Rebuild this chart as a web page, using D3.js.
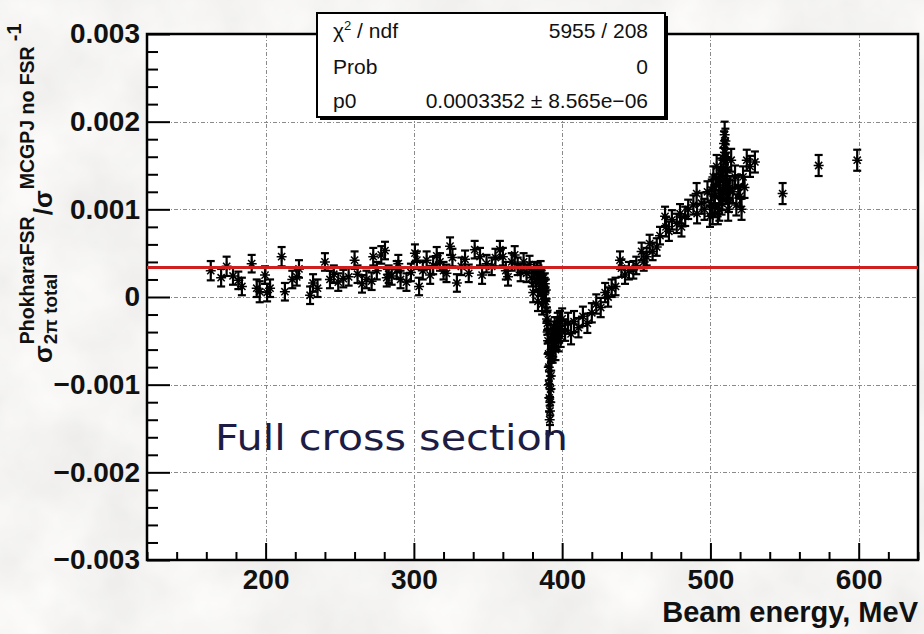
<!DOCTYPE html>
<html>
<head>
<meta charset="utf-8">
<script src="https://cdn.jsdelivr.net/npm/d3@7"></script>
<style>
    html, body { margin: 0; padding: 0; background: #e8e6e3; }
    svg { display: block; font-family: 'Liberation Sans', Arial, Helvetica, sans-serif; }
    .tick text { font-size: 28px; font-weight: bold; fill: #111; }
    .tick line { stroke: #000; stroke-width: 2; }
    .grid { stroke: #8a8a8a; stroke-width: 1; stroke-dasharray: 4,2,1,2; }
    .ytitle text { font-weight: bold; fill: #111; }
    .stats text { font-size: 21px; fill: #111; }
</style>
</head>
<body>
<div id="vis"></div>
<script>
'use strict';

//beam energy of each point, MeV
var energy = [
    163, 170, 173.7, 178, 181.6, 184, 190.6, 194, 196, 199.6,
    201, 203, 210.8, 213, 218, 221, 222.5, 230, 232, 235,
    240, 243.4, 246, 249, 252.4, 256, 260, 262, 265, 268,
    271.5, 272.6, 275, 278, 280.5, 281.7, 283, 285, 288.4, 289.5,
    291, 295, 298, 300.7, 302, 303.5, 306, 308.6, 311, 313,
    315.4, 317.6, 320, 322, 324.4, 326, 329, 332, 334.5, 337,
    341, 344.6, 346, 349, 352.5, 355, 358, 360, 362, 363.5,
    366, 368, 370, 372, 374, 376, 378, 379.5, 381, 382.5,
    384, 385, 386, 387, 388, 388.8, 389.5, 390, 390.5, 391,
    391.3, 391.6, 392, 392.4, 392.8, 393.3, 394, 395, 396, 397,
    398, 400, 402, 404, 406, 408, 411, 414, 417, 420,
    423, 426, 429, 431, 433.4, 436, 439, 440, 442.4, 445,
    448, 450, 453.6, 455, 457, 459, 461, 463.8, 466, 469.4,
    470, 472, 474, 477.3, 479.5, 480.5, 483, 485, 488.5, 490.7,
    491, 494, 496, 498, 499.7, 500.9, 502, 503, 504.2, 505,
    506.5, 507.5, 508.3, 508.7, 509.2, 509.6, 509.8, 510.1, 510.6, 511,
    511.7, 512.5, 514, 516.6, 518.8, 520, 522, 524.5, 526.7, 530,
    548.7, 573, 599,
    //extra points of the omega and phi scans
    380.5, 383, 383.7, 385.5, 386.5, 387.5, 388.3, 389, 389.8, 390.2,
    390.8, 391.1, 391.8, 392.2, 392.6, 393, 393.6, 394.5, 395.5, 396.5,
    397.5, 398.5, 399,
    500.3, 501.5, 502.6, 503.6, 505.6, 506, 507, 508, 509, 510.3,
    510.8, 511.4, 512, 513, 515, 517.5, 521, 523
];

//sigma(Phokhara FSR) / sigma(MCGPJ no FSR) - 1
var ratio = [
    0.00030, 0.00022, 0.00035, 0.00024, 0.00019, 0.00012, 0.00038, 0.00010, 0.00006, 0.00025,
    0.00005, 0.00010, 0.00046, 0.00006, 0.00020, 0.00023, 0.00032, 0.00002, 0.00016, 0.00010,
    0.00040, 0.00020, 0.00026, 0.00017, 0.00021, 0.00023, 0.00042, 0.00026, 0.00015, 0.00020,
    0.00018, 0.00046, 0.00030, 0.00048, 0.00053, 0.00022, 0.00026, 0.00024, 0.00031, 0.00038,
    0.00020, 0.00017, 0.00028, 0.00050, 0.00042, 0.00012, 0.00030, 0.00042, 0.00025, 0.00036,
    0.00047, 0.00040, 0.00030, 0.00027, 0.00058, 0.00045, 0.00016, 0.00035, 0.00043, 0.00027,
    0.00054, 0.00046, 0.00025, 0.00038, 0.00035, 0.00045, 0.00054, 0.00046, 0.00030, 0.00023,
    0.00040, 0.00048, 0.00035, 0.00028, 0.00040, 0.00027, 0.00037, 0.00022, 0.00030, 0.00018,
    0.00025, 0.00012, 0.00020, 0.00005, 0.00010, -0.00005, -0.00015, -0.00030, -0.00050, -0.00080,
    -0.00115, -0.00140, -0.00120, -0.00090, -0.00060, -0.00045, -0.00055, -0.00035, -0.00048, -0.00030,
    -0.00040, -0.00025, -0.00038, -0.00030, -0.00042, -0.00028, -0.00035, -0.00022, -0.00030, -0.00018,
    -0.00008, -0.00012, 0.00005, 0.00000, 0.00010, 0.00012, 0.00042, 0.00033, 0.00025, 0.00030,
    0.00031, 0.00036, 0.00052, 0.00040, 0.00046, 0.00061, 0.00052, 0.00057, 0.00070, 0.00092,
    0.00080, 0.00075, 0.00088, 0.00084, 0.00095, 0.00080, 0.00092, 0.00100, 0.00105, 0.00118,
    0.00095, 0.00107, 0.00100, 0.00120, 0.00092, 0.00122, 0.00137, 0.00103, 0.00149, 0.00095,
    0.00118, 0.00107, 0.00135, 0.00156, 0.00175, 0.00185, 0.00165, 0.00178, 0.00145, 0.00130,
    0.00122, 0.00110, 0.00156, 0.00137, 0.00126, 0.00115, 0.00137, 0.00156, 0.00149, 0.00154,
    0.00118, 0.00150, 0.00156,
    0.00005, 0.00028, -0.00005, 0.00030, -0.00008, 0.00022, 0.00015, 0.00008, -0.00025, -0.00040,
    -0.00065, -0.00100, -0.00130, -0.00105, -0.00070, -0.00050, -0.00062, -0.00040, -0.00060, -0.00035,
    -0.00050, -0.00028, -0.00045,
    0.00105, 0.00095, 0.00115, 0.00128, 0.00135, 0.00100, 0.00145, 0.00112, 0.00125, 0.00160,
    0.00120, 0.00145, 0.00100, 0.00125, 0.00120, 0.00105, 0.00100, 0.00125
];

//statistical error of each point
var ratioErr = [
    0.00011, 0.00010, 0.00011, 0.00010, 0.00010, 0.00010, 0.00010, 0.00010, 0.00012, 0.00010,
    0.00010, 0.00010, 0.00011, 0.00010, 0.00010, 0.00010, 0.00010, 0.00010, 0.00010, 0.00010,
    0.00010, 0.00010, 0.00010, 0.00010, 0.00010, 0.00010, 0.00010, 0.00010, 0.00010, 0.00010,
    0.00010, 0.00010, 0.00010, 0.00010, 0.00010, 0.00010, 0.00010, 0.00010, 0.00010, 0.00010,
    0.00010, 0.00010, 0.00010, 0.00010, 0.00010, 0.00010, 0.00010, 0.00010, 0.00010, 0.00010,
    0.00010, 0.00010, 0.00010, 0.00010, 0.00010, 0.00010, 0.00010, 0.00010, 0.00010, 0.00010,
    0.00010, 0.00010, 0.00010, 0.00010, 0.00010, 0.00010, 0.00010, 0.00010, 0.00010, 0.00010,
    0.00010, 0.00010, 0.00010, 0.00010, 0.00010, 0.00010, 0.00010, 0.00010, 0.00010, 0.00010,
    0.00011, 0.00011, 0.00011, 0.00012, 0.00012, 0.00012, 0.00013, 0.00013, 0.00014, 0.00015,
    0.00016, 0.00016, 0.00015, 0.00015, 0.00014, 0.00013, 0.00013, 0.00012, 0.00012, 0.00012,
    0.00012, 0.00012, 0.00012, 0.00012, 0.00012, 0.00012, 0.00011, 0.00011, 0.00011, 0.00011,
    0.00011, 0.00011, 0.00011, 0.00011, 0.00010, 0.00010, 0.00010, 0.00010, 0.00010, 0.00010,
    0.00010, 0.00010, 0.00010, 0.00010, 0.00010, 0.00010, 0.00010, 0.00010, 0.00010, 0.00011,
    0.00011, 0.00011, 0.00011, 0.00011, 0.00011, 0.00011, 0.00011, 0.00011, 0.00011, 0.00012,
    0.00011, 0.00012, 0.00012, 0.00012, 0.00012, 0.00012, 0.00012, 0.00012, 0.00013, 0.00012,
    0.00013, 0.00013, 0.00013, 0.00014, 0.00014, 0.00015, 0.00014, 0.00014, 0.00014, 0.00013,
    0.00013, 0.00013, 0.00013, 0.00013, 0.00013, 0.00012, 0.00012, 0.00012, 0.00012, 0.00012,
    0.00012, 0.00012, 0.00012,
    0.00011, 0.00011, 0.00011, 0.00011, 0.00012, 0.00012, 0.00012, 0.00012, 0.00013, 0.00013,
    0.00014, 0.00015, 0.00016, 0.00015, 0.00014, 0.00013, 0.00013, 0.00012, 0.00012, 0.00012,
    0.00012, 0.00012, 0.00012,
    0.00012, 0.00012, 0.00012, 0.00012, 0.00013, 0.00013, 0.00013, 0.00013, 0.00014, 0.00014,
    0.00014, 0.00013, 0.00013, 0.00013, 0.00013, 0.00012, 0.00012, 0.00012
];

//constant fit
var fitP0 = 0.0003352;

//axes
var xDomain = [120, 640];
var yDomain = [-0.003, 0.003];
var xTicks = [200, 300, 400, 500, 600];
var yTicks = [0.003, 0.002, 0.001, 0, -0.001, -0.002, -0.003];
var yTickLabels = ['0.003', '0.002', '0.001', '0', '\u22120.001', '\u22120.002', '\u22120.003'];

//stats box rows
var statsLabels = ['Prob', 'p0'];
var statsValues = ['5955 / 208', '0', '0.0003352 \u00b1 8.565e\u221206'];

//layout
var width = 924, height = 634;
var frame = { left: 147, top: 34, right: 918, bottom: 560 };

var x = d3.scaleLinear().domain(xDomain).range([frame.left, frame.right]);
var y = d3.scaleLinear().domain(yDomain).range([frame.bottom, frame.top]);

var svg = d3.select('#vis')
    .append('svg')
    .attr('width', width)
    .attr('height', height);

//paper-like background
var filter = svg.append('defs').append('filter')
    .attr('id', 'paper')
    .attr('x', 0).attr('y', 0).attr('width', 1).attr('height', 1);
filter.append('feTurbulence')
    .attr('type', 'fractalNoise')
    .attr('baseFrequency', 0.012)
    .attr('numOctaves', 4)
    .attr('seed', 7);
filter.append('feColorMatrix')
    .attr('type', 'matrix')
    .attr('values', '0.2 0 0 0 0.81  0.2 0 0 0 0.805  0.2 0 0 0 0.795  0 0 0 0 1');
svg.append('rect')
    .attr('width', width)
    .attr('height', height)
    .attr('filter', 'url(#paper)');

//plot area
svg.append('rect')
    .attr('x', frame.left)
    .attr('y', frame.top)
    .attr('width', frame.right - frame.left)
    .attr('height', frame.bottom - frame.top)
    .style('fill', '#fff');

//grid
svg.selectAll('.grid-x')
    .data(xTicks)
    .enter()
    .append('line')
    .attr('class', 'grid')
    .attr('x1', function (d) { return Math.round(x(d)) + 0.5; })
    .attr('x2', function (d) { return Math.round(x(d)) + 0.5; })
    .attr('y1', frame.top)
    .attr('y2', frame.bottom);
svg.selectAll('.grid-y')
    .data(yTicks.slice(1, -1))
    .enter()
    .append('line')
    .attr('class', 'grid')
    .attr('x1', frame.left)
    .attr('x2', frame.right)
    .attr('y1', function (d) { return Math.round(y(d)) + 0.5; })
    .attr('y2', function (d) { return Math.round(y(d)) + 0.5; });

//minor ticks: every 20 MeV and every 0.0002
var xMinor = d3.range(xDomain[0], xDomain[1] + 1, 20).filter(function (d) {
    return xTicks.indexOf(d) < 0;
});
var yMinor = d3.range(-15, 16).filter(function (i) { return i % 5 !== 0; })
    .map(function (i) { return i * 0.0002; });

var xAxisG = svg.append('g').attr('transform', 'translate(0,' + frame.bottom + ')');
xAxisG.call(d3.axisBottom(x).tickValues(xTicks).tickSize(-17).tickSizeOuter(0).tickPadding(9));
xAxisG.append('g').call(d3.axisBottom(x).tickValues(xMinor).tickSize(-8).tickSizeOuter(0).tickFormat(''));

var yAxisG = svg.append('g').attr('transform', 'translate(' + frame.left + ',0)');
yAxisG.call(d3.axisLeft(y).tickValues(yTicks).tickSize(-23).tickSizeOuter(0).tickPadding(7)
    .tickFormat(function (d, i) { return yTickLabels[i]; }));
yAxisG.append('g').call(d3.axisLeft(y).tickValues(yMinor).tickSize(-11).tickSizeOuter(0).tickFormat(''));

svg.selectAll('.domain').remove();
svg.selectAll('.tick text').attr('font-family', null).attr('font-size', null).attr('fill', null);

//frame
svg.append('rect')
    .attr('x', frame.left)
    .attr('y', frame.top)
    .attr('width', frame.right - frame.left)
    .attr('height', frame.bottom - frame.top)
    .style('fill', 'none')
    .style('stroke', '#000')
    .style('stroke-width', 2.5);

//data points with error bars and star markers
var points = energy.map(function (e, i) {
    return { e: e, v: ratio[i], err: ratioErr[i] };
});
var pt = svg.selectAll('.pt')
    .data(points)
    .enter()
    .append('g')
    .attr('class', 'pt')
    .attr('transform', function (d) { return 'translate(' + x(d.e) + ',0)'; })
    .style('stroke', '#000')
    .style('stroke-width', 2.2);
pt.append('line')
    .attr('y1', function (d) { return y(d.v - d.err); })
    .attr('y2', function (d) { return y(d.v + d.err); });
pt.append('line')
    .attr('x1', -4).attr('x2', 4)
    .attr('y1', function (d) { return y(d.v - d.err); })
    .attr('y2', function (d) { return y(d.v - d.err); });
pt.append('line')
    .attr('x1', -4).attr('x2', 4)
    .attr('y1', function (d) { return y(d.v + d.err); })
    .attr('y2', function (d) { return y(d.v + d.err); });
pt.append('path')
    .attr('d', function (d) {
        var c = y(d.v);
        return 'M-5,' + c + 'h10M0,' + (c - 5) + 'v10' +
            'M-3.6,' + (c - 3.6) + 'l7.2,7.2M-3.6,' + (c + 3.6) + 'l7.2,-7.2';
    })
    .style('stroke-width', 1.5);

//fit line
svg.append('path')
    .datum(xDomain)
    .attr('d', d3.line()
        .x(function (d) { return x(d); })
        .y(function () { return y(fitP0); }))
    .style('stroke', '#cf1f1f')
    .style('stroke-width', 3)
    .style('fill', 'none');

//annotation
svg.append('text')
    .attr('x', 215)
    .attr('y', 450)
    .attr('textLength', 353)
    .attr('lengthAdjust', 'spacingAndGlyphs')
    .style('font-family', "'DejaVu Sans', sans-serif")
    .style('font-size', '36px')
    .style('fill', '#1c1c44')
    .text('Full cross section');

//x title
svg.append('text')
    .attr('x', frame.right)
    .attr('y', 622)
    .attr('text-anchor', 'end')
    .style('font-size', '29px')
    .style('font-weight', 'bold')
    .style('fill', '#111')
    .text('Beam energy, MeV');

//y title, rotated, built piece by piece
var yl = svg.append('g')
    .attr('class', 'ytitle')
    .attr('transform', 'translate(52,363) rotate(-90)');
function piece(txt, px, py, size) {
    var t = yl.append('text')
        .attr('x', px)
        .attr('y', py)
        .style('font-size', size + 'px')
        .text(txt);
    return t.node().getComputedTextLength();
}
var cx = 0;
cx += piece('\u03c3', cx, 0, 26) + 1;
var wSup = piece('PhokharaFSR', cx, -18, 19.5);
var wSub = piece('2\u03c0 total', cx, 5, 19);
cx += Math.max(wSup, wSub) + 1;
cx += piece('/', cx, 0, 26);
cx += piece('\u03c3', cx, 0, 26) + 1;
cx += piece('MCGPJ no FSR', cx, -18, 19.5) + 5;
piece('-1', cx, -31, 20);

//stats box
var stats = svg.append('g').attr('class', 'stats');
stats.append('rect')
    .attr('x', 320).attr('y', 16)
    .attr('width', 348).attr('height', 104)
    .style('fill', '#000');
stats.append('rect')
    .attr('x', 317).attr('y', 13)
    .attr('width', 348).attr('height', 104)
    .style('fill', '#fff')
    .style('stroke', '#000')
    .style('stroke-width', 2);

var rowY = [38, 74, 108];
var chi = stats.append('text').attr('x', 333).attr('y', rowY[0]);
chi.append('tspan').text('\u03c7');
chi.append('tspan').attr('dy', -8).style('font-size', '13px').text('2');
chi.append('tspan').attr('dy', 8).text(' / ndf');
stats.selectAll('.stat-label')
    .data(statsLabels)
    .enter()
    .append('text')
    .attr('x', 333)
    .attr('y', function (d, i) { return rowY[i + 1]; })
    .text(function (d) { return d; });
stats.selectAll('.stat-value')
    .data(statsValues)
    .enter()
    .append('text')
    .attr('x', 648)
    .attr('y', function (d, i) { return rowY[i]; })
    .attr('text-anchor', 'end')
    .text(function (d) { return d; });
</script>
</body>
</html>
